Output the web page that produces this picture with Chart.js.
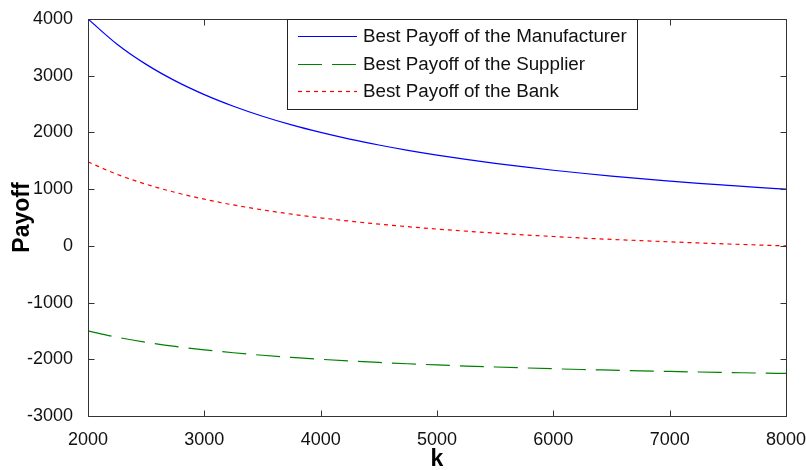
<!DOCTYPE html>
<html>
<head>
<meta charset="utf-8">
<script src="https://cdn.jsdelivr.net/npm/chart.js@4/dist/chart.umd.min.js"></script>
<style>
  html, body { margin: 0; padding: 0; background: #fff; }
  #wrap { width: 806px; height: 470px; position: relative; }
</style>
</head>
<body>
<div id="wrap"><canvas id="c" width="806" height="470"></canvas></div>
<script>
// k values along the horizontal axis
const kValues = [2000, 2250, 2500, 2750, 3000, 3250, 3500, 3750, 4000, 4250, 4500, 4750, 5000,
                 5250, 5500, 5750, 6000, 6250, 6500, 6750, 7000, 7250, 7500, 7750, 8000];

// Best payoff of each party at every k
const manufacturerPayoff = [4000, 3556, 3200, 2909, 2667, 2462, 2286, 2133, 2000, 1882, 1778, 1684, 1600,
                            1524, 1455, 1391, 1333, 1280, 1231, 1185, 1143, 1103, 1067, 1032, 1000];
const supplierPayoff = [-1500, -1611, -1700, -1773, -1833, -1885, -1929, -1967, -2000, -2029, -2056, -2079, -2100,
                        -2119, -2136, -2152, -2167, -2180, -2192, -2204, -2214, -2224, -2233, -2242, -2250];
const bankPayoff = [1480, 1261, 1086, 942, 823, 721, 635, 559, 494, 436, 384, 338, 296,
                    259, 225, 193, 165, 138, 114, 92, 71, 51, 33, 16, 0];

const seriesLabels = ['Best Payoff of the Manufacturer', 'Best Payoff of the Supplier', 'Best Payoff of the Bank'];

const xTicks = [2000, 3000, 4000, 5000, 6000, 7000, 8000];
const yTicks = [-3000, -2000, -1000, 0, 1000, 2000, 3000, 4000];

const FONT = "'Liberation Sans', Arial, sans-serif";
const AXIS_COLOR = '#333';

function pts(ys) { return kValues.map((k, i) => ({ x: k, y: ys[i] })); }

// Box around the plot with inward ticks on all four sides
const boxPlugin = {
  id: 'boxTicks',
  afterDatasetsDraw(chart) {
    const { ctx, chartArea: a, scales: { x, y } } = chart;
    const L = Math.round(a.left) + 0.5, R = Math.round(a.right) + 0.5;
    const T = Math.round(a.top) + 0.5, B = Math.round(a.bottom) + 0.5;
    const len = 6;
    ctx.save();
    ctx.strokeStyle = AXIS_COLOR;
    ctx.lineWidth = 1;
    ctx.setLineDash([]);
    ctx.beginPath();
    ctx.rect(L, T, R - L, B - T);
    xTicks.forEach(v => {
      const px = Math.round(x.getPixelForValue(v)) + 0.5;
      ctx.moveTo(px, B); ctx.lineTo(px, B - len);
      ctx.moveTo(px, T); ctx.lineTo(px, T + len);
    });
    yTicks.forEach(v => {
      const py = Math.round(y.getPixelForValue(v)) + 0.5;
      ctx.moveTo(L, py); ctx.lineTo(L + len, py);
      ctx.moveTo(R, py); ctx.lineTo(R - len, py);
    });
    ctx.stroke();
    ctx.restore();
  }
};

// Legend box drawn inside the plot near the top
const legendPlugin = {
  id: 'innerLegend',
  afterDraw(chart) {
    const { ctx } = chart;
    const box = { left: 287.5, top: 19.5, right: 637.5, bottom: 109.5 };
    const rows = [36, 64, 91];
    ctx.save();
    ctx.fillStyle = '#fff';
    ctx.fillRect(box.left, box.top, box.right - box.left, box.bottom - box.top);
    ctx.strokeStyle = '#222';
    ctx.lineWidth = 1;
    ctx.setLineDash([]);
    ctx.strokeRect(box.left, box.top, box.right - box.left, box.bottom - box.top);
    chart.data.datasets.forEach((ds, i) => {
      const yy = rows[i] + 0.5;
      ctx.strokeStyle = ds.borderColor;
      ctx.lineWidth = ds.borderWidth;
      ctx.setLineDash(ds.borderDash || []);
      ctx.beginPath();
      ctx.moveTo(298, yy);
      ctx.lineTo(357, yy);
      ctx.stroke();
      ctx.setLineDash([]);
      ctx.fillStyle = '#111';
      ctx.font = '18.8px ' + FONT;
      ctx.textBaseline = 'middle';
      ctx.textAlign = 'left';
      ctx.fillText(ds.label, 363, rows[i] + 1);
    });
    ctx.restore();
  }
};

new Chart(document.getElementById('c'), {
  type: 'line',
  data: {
    datasets: [
      { label: seriesLabels[0], data: pts(manufacturerPayoff), borderColor: '#0000ff', borderWidth: 1.2 },
      { label: seriesLabels[1], data: pts(supplierPayoff), borderColor: '#008000', borderWidth: 1.2, borderDash: [24, 10] },
      { label: seriesLabels[2], data: pts(bankPayoff), borderColor: '#ff0000', borderWidth: 1.2, borderDash: [4, 4] }
    ]
  },
  options: {
    responsive: false,
    animation: false,
    devicePixelRatio: 1,
    layout: { padding: { left: 0, top: 19, right: 20, bottom: 0 } },
    elements: {
      point: { radius: 0 },
      line: { tension: 0.4, cubicInterpolationMode: 'monotone', fill: false }
    },
    plugins: { legend: { display: false }, tooltip: { enabled: false } },
    scales: {
      x: {
        type: 'linear',
        min: 2000, max: 8000,
        afterFit(s) { s.height = 54; s.paddingRight = 0; s.paddingLeft = 0; },
        afterBuildTicks(s) { s.ticks = xTicks.map(v => ({ value: v })); },
        grid: { display: false },
        border: { display: false },
        ticks: { color: '#111', font: { family: FONT, size: 18 }, padding: 5, maxRotation: 0, autoSkip: false,
                 callback: v => String(v) },
        title: { display: true, text: 'k', color: '#000', font: { family: FONT, size: 23, weight: 'bold' },
                 padding: { top: 0, bottom: -3 } }
      },
      y: {
        type: 'linear',
        min: -3000, max: 4000,
        afterFit(s) { s.width = 88; },
        afterBuildTicks(s) { s.ticks = yTicks.map(v => ({ value: v })); },
        grid: { display: false },
        border: { display: false },
        ticks: { color: '#111', font: { family: FONT, size: 18 }, padding: 7, autoSkip: false,
                 callback: v => String(v) },
        title: { display: true, text: 'Payoff', color: '#000', font: { family: FONT, size: 23, weight: 'bold' },
                 padding: { top: 9, bottom: 0 } }
      }
    }
  },
  plugins: [boxPlugin, legendPlugin]
});
</script>
</body>
</html>
